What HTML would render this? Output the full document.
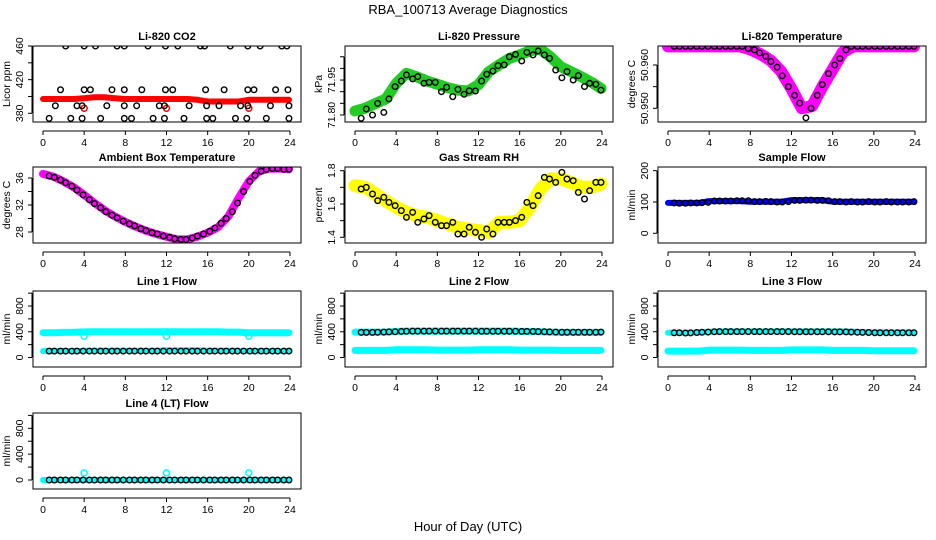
<!DOCTYPE html>
<html><head><meta charset="utf-8">
<style>
html,body{margin:0;padding:0;background:#fff;}
svg{display:block;font-family:"Liberation Sans",Arial,sans-serif;}
</style></head>
<body>
<svg id="chart" width="936" height="540" viewBox="0 0 936 540" xmlns="http://www.w3.org/2000/svg">
<rect x="0" y="0" width="936" height="540" fill="#fff"/>
<text x="468" y="14" text-anchor="middle" font-size="13">RBA_100713  Average Diagnostics</text>
<text x="468" y="531" text-anchor="middle" font-size="13">Hour of Day (UTC)</text>
</svg>
<script>
// ---- data ----
const hours = [0,1,2,3,4,5,6,7,8,9,10,11,12,13,14,15,16,17,18,19,20,21,22,23,24];
const xTicks = [0,4,8,12,16,20,24];
const blackTimes = [0.6,1.1,1.7,2.2,2.8,3.3,3.9,4.5,5.0,5.6,6.1,6.7,7.2,7.8,8.4,8.9,9.5,10.0,10.6,11.1,11.7,12.3,12.8,13.4,13.9,14.5,15.0,15.6,16.2,16.7,17.3,17.8,18.4,18.9,19.5,20.1,20.6,21.2,21.7,22.3,22.8,23.4,23.9];

const co2Red = [397,397,397,397,398,399,399,398,397,397,397,397,397,397,397,396,394,394,394,394,396,396,396,396,396];
const co2OutT = [4,12,20];
const co2OutV = [386,386,386];
const co2BlackT = [2.2,4.0,5.1,7.2,7.9,10.2,11.9,13.1,15.3,15.7,18.2,19.9,21.1,23.2,23.7,
  1.7,4.0,4.6,6.7,7.9,9.6,11.9,12.6,15.8,17.6,19.9,20.5,22.6,23.8,
  1.2,3.3,3.8,6.2,7.9,9.1,11.3,11.8,14.2,15.9,17.1,19.2,19.9,22.1,23.9,
  0.6,2.7,3.8,5.6,7.9,8.6,10.7,11.8,13.7,15.9,16.5,18.7,19.8,21.7,23.9];
const co2BlackV = [460,460,460,460,460,460,460,460,460,460,460,460,460,460,460,
  408,408,408,408,408,408,408,408,408,408,408,408,408,408,
  389,389,389,389,389,389,389,389,389,389,389,389,389,389,389,
  374,374,374,374,374,374,374,374,374,374,374,374,374,374,374];

const presGreen = [71.817,71.829,71.850,71.869,71.935,71.979,71.964,71.946,71.932,71.917,71.907,71.903,71.930,71.986,72.015,72.043,72.058,72.075,72.083,72.050,72.007,71.986,71.964,71.940,71.914];
const presBlack = [71.786,71.826,71.800,71.850,71.811,71.869,71.922,71.946,71.972,71.955,71.965,71.936,71.940,71.940,71.900,71.919,71.879,71.910,71.889,71.904,71.903,71.946,71.975,71.989,72.012,72.015,72.050,72.060,72.032,72.069,72.058,72.075,72.058,72.043,71.993,71.960,71.986,71.950,71.969,71.922,71.936,71.932,71.907];

const tempMag = [50.9643,50.9643,50.9643,50.9643,50.9643,50.9643,50.9643,50.9643,50.9636,50.9625,50.9610,50.9585,50.9545,50.9500,50.9505,50.9550,50.9590,50.9630,50.9643,50.9643,50.9643,50.9643,50.9643,50.9643,50.9643];
const tempBlack = [50.9643,50.9643,50.9643,50.9643,50.9643,50.9643,50.9643,50.9643,50.9643,50.9643,50.9643,50.9643,50.9643,50.9638,50.9635,50.9628,50.9620,50.9608,50.9595,50.9575,50.9550,50.9530,50.9512,50.9478,50.9500,50.9530,50.9555,50.9580,50.9600,50.9615,50.9635,50.9643,50.9643,50.9643,50.9643,50.9643,50.9643,50.9643,50.9643,50.9643,50.9643,50.9643,50.9643];

const ambMag = [36.6,36.2,35.5,34.6,33.5,32.3,31.2,30.3,29.5,28.8,28.2,27.7,27.3,26.9,26.9,27.3,27.9,28.7,30.3,33.0,35.5,37.0,37.4,37.4,37.3];
const ambBlack = [36.3,36.1,35.7,35.3,34.8,34.2,33.5,32.8,32.2,31.6,31.0,30.5,30.1,29.6,29.2,28.9,28.5,28.2,27.9,27.7,27.4,27.2,27.0,26.9,26.9,27.1,27.4,27.7,28.1,28.6,29.3,30.0,31.0,32.3,34.0,35.5,36.4,37.0,37.3,37.4,37.4,37.3,37.3];

const rhYellow = [1.71,1.70,1.66,1.62,1.58,1.55,1.53,1.52,1.50,1.48,1.46,1.45,1.44,1.43,1.49,1.49,1.50,1.58,1.69,1.75,1.75,1.73,1.70,1.70,1.72];
const rhBlack = [1.69,1.70,1.66,1.62,1.64,1.61,1.59,1.56,1.52,1.55,1.49,1.51,1.53,1.49,1.47,1.47,1.49,1.42,1.42,1.46,1.43,1.40,1.45,1.42,1.49,1.49,1.49,1.50,1.52,1.61,1.59,1.65,1.76,1.75,1.73,1.79,1.75,1.74,1.67,1.63,1.68,1.73,1.73];

const sampBlue = [97,97,97,97,103,103,103,103,101,101,101,101,106,106,106,106,101,101,101,101,101,101,101,101,101];
const sampBlack = [97,96,96,97,97,98,99,103,103,103,103,104,104,104,101,101,102,101,100,100,101,105,105,106,106,105,105,104,101,101,100,101,100,100,101,100,100,101,100,100,100,100,101];

const l1High = [385,385,390,392,398,400,400,400,400,400,400,400,400,400,400,400,400,400,395,395,385,385,385,385,385];
const l1Low = [100,100,100,100,105,105,105,105,105,105,105,105,110,110,110,110,105,105,105,105,100,100,100,100,100];
const l1Black = [100,100,100,100,100,100,100,100,100,100,100,100,100,100,100,100,100,100,100,100,100,100,100,100,100,100,100,100,100,100,100,100,100,100,100,100,100,100,100,100,100,100,100];
const l1OutT = [4,12,20];
const l1OutV = [330,330,330];

const l2High = [395,395,395,395,405,410,410,410,410,410,410,410,410,410,410,410,405,405,400,395,390,390,390,390,390];
const l2Low = [110,110,110,110,120,120,120,120,115,115,115,115,120,120,120,120,115,115,115,115,110,110,110,110,110];
const l2Black = [390,390,390,392,395,398,400,405,408,410,410,410,410,410,410,410,410,410,410,410,410,408,408,408,408,408,408,408,405,405,405,402,400,398,395,392,392,392,392,392,392,392,395];

const l3High = [385,385,385,390,400,405,405,405,405,405,405,405,405,405,405,405,405,405,400,395,390,390,390,390,390];
const l3Low = [100,100,100,100,115,115,115,115,110,110,110,110,118,118,118,118,110,110,110,110,105,105,105,105,105];
const l3Black = [385,385,380,382,388,392,395,400,402,402,402,402,402,402,402,402,402,402,402,402,402,400,400,400,400,400,400,400,398,398,398,395,392,390,388,385,385,385,385,385,385,385,385];

const l4Cyan = [0,0,0,0,0,0,0,0,0,0,0,0,0,0,0,0,0,0,0,0,0,0,0,0,0];
const l4Black = [0,0,0,0,0,0,0,0,0,0,0,0,0,0,0,0,0,0,0,0,0,0,0,0,0,0,0,0,0,0,0,0,0,0,0,0,0,0,0,0,0,0,0];
const l4OutT = [4,12,20];
const l4OutV = [110,110,110];

const flowTicks = [0,200,400,600,800,1000];
const flowLabels = [0,400,800];

// ---- layout ----
const NS = "http://www.w3.org/2000/svg";
const svg = document.getElementById('chart');
const colL = [33,345,658];
const rowT = [46,167,291,413];
const PW = 268, PH = 76;

function mk(tag, attrs, parent){
  const e = document.createElementNS(NS, tag);
  for (const k in attrs) e.setAttribute(k, attrs[k]);
  (parent||svg).appendChild(e);
  return e;
}

const panels = [
 {id:'co2',title:'Li-820 CO2',c:0,r:0,ytitle:'Licor ppm',yt:[380,400,420,440,460],yl:[380,420,460],fmt:v=>String(v),ym:[460,0,380,67.3],
  clouds:[{v:co2Red,col:'#ff0000',w:6}],outs:[{t:co2OutT,v:co2OutV,col:'#ff0000'}],black:{t:co2BlackT,v:co2BlackV}},
 {id:'pressure',title:'Li-820 Pressure',c:1,r:0,ytitle:'kPa',yt:[71.80,71.85,71.90,71.95,72.00,72.05],yl:[71.80,71.95],fmt:v=>v.toFixed(2),ym:[71.80,69,72.05,10.75],
  clouds:[{v:presGreen,col:'#22cc22',w:11}],outs:[],black:{t:blackTimes,v:presBlack}},
 {id:'li820-temp',title:'Li-820 Temperature',c:2,r:0,ytitle:'degrees C',yt:[50.950,50.955,50.960],yl:[50.950,50.960],fmt:v=>v.toFixed(3),ym:[50.960,19,50.950,62.3],
  clouds:[{v:tempMag,col:'#ff00ff',w:12}],outs:[],black:{t:blackTimes,v:tempBlack}},
 {id:'ambient-temp',title:'Ambient Box Temperature',c:0,r:1,ytitle:'degrees C',yt:[28,30,32,34,36],yl:[28,32,36],fmt:v=>String(v),ym:[36,11,28,65],
  clouds:[{v:ambMag,col:'#ff00ff',w:8}],outs:[],black:{t:blackTimes,v:ambBlack}},
 {id:'gas-rh',title:'Gas Stream RH',c:1,r:1,ytitle:'percent',yt:[1.4,1.5,1.6,1.7,1.8],yl:[1.4,1.6,1.8],fmt:v=>v.toFixed(1),ym:[1.8,3.7,1.4,70.3],
  clouds:[{v:rhYellow,col:'#ffff00',w:13}],outs:[],black:{t:blackTimes,v:rhBlack}},
 {id:'sample-flow',title:'Sample Flow',c:2,r:1,ytitle:'ml/min',yt:[0,100,200],yl:[0,100,200],fmt:v=>String(v),ym:[200,3.7,0,66.3],
  clouds:[{v:sampBlue,col:'#0000ff',w:6}],outs:[],black:{t:blackTimes,v:sampBlack}},
 {id:'line1-flow',title:'Line 1 Flow',c:0,r:2,ytitle:'ml/min',yt:flowTicks,yl:flowLabels,fmt:v=>String(v),ym:[0,66.5,800,15],
  clouds:[{v:l1High,col:'#00ffff',w:7},{v:l1Low,col:'#00ffff',w:6}],outs:[{t:l1OutT,v:l1OutV,col:'#00ffff'}],black:{t:blackTimes,v:l1Black}},
 {id:'line2-flow',title:'Line 2 Flow',c:1,r:2,ytitle:'ml/min',yt:flowTicks,yl:flowLabels,fmt:v=>String(v),ym:[0,66.5,800,15],
  clouds:[{v:l2High,col:'#00ffff',w:7},{v:l2Low,col:'#00ffff',w:7}],outs:[],black:{t:blackTimes,v:l2Black}},
 {id:'line3-flow',title:'Line 3 Flow',c:2,r:2,ytitle:'ml/min',yt:flowTicks,yl:flowLabels,fmt:v=>String(v),ym:[0,66.5,800,15],
  clouds:[{v:l3High,col:'#00ffff',w:6},{v:l3Low,col:'#00ffff',w:7}],outs:[],black:{t:blackTimes,v:l3Black}},
 {id:'line4-flow',title:'Line 4 (LT) Flow',c:0,r:3,ytitle:'ml/min',yt:flowTicks,yl:flowLabels,fmt:v=>String(v),ym:[0,67,800,15.3],
  clouds:[{v:l4Cyan,col:'#00ffff',w:6}],outs:[{t:l4OutT,v:l4OutV,col:'#00ffff'}],black:{t:blackTimes,v:l4Black}}
];

panels.forEach(p=>{
  const L = colL[p.c], T = rowT[p.r];
  const g = mk('g',{});
  
  
  const xs = t => L + 10 + t*(PW-21)/24;
  const k = (p.ym[3]-p.ym[1])/(p.ym[2]-p.ym[0]);
  const ys = v => T + p.ym[1] + (v - p.ym[0])*k;

  const cid = 'clip-' + p.id;
  const cp = mk('clipPath',{id:cid}, g);
  mk('rect',{x:L,y:T,width:PW,height:PH}, cp);
  const data = mk('g',{'clip-path':'url(#'+cid+')'}, g);

  p.clouds.forEach((cl,i)=>{
    const pts = cl.v.map((v,j)=> xs(Math.min(hours[j],23.9)).toFixed(1)+','+ys(v).toFixed(1)).join(' ');
    const pl = mk('polyline',{points:pts,fill:'none',stroke:cl.col,'stroke-width':cl.w,'stroke-linejoin':'round','stroke-linecap':'round'}, data);
    
    
  });
  p.outs.forEach(o=>{
    o.t.forEach((t,j)=>{
      const c = mk('circle',{cx:xs(t),cy:ys(o.v[j]),r:3,fill:'none',stroke:o.col,'stroke-width':1.5}, data);
      
      
    });
  });
  p.black.t.forEach((t,j)=>{
    const c = mk('circle',{cx:xs(t),cy:ys(p.black.v[j]),r:2.8,fill:'none',stroke:'#000','stroke-width':1.4}, data);
    
    
  });

  const box = mk('rect',{x:L,y:T,width:PW,height:PH,fill:'none',stroke:'#000','stroke-width':1}, g);
  
  

  const tt = mk('text',{x:L+PW/2,y:T-6,'text-anchor':'middle','font-size':11,'font-weight':'bold'}, g);
  tt.textContent = p.title;
  
  

  const xa = mk('g',{}, g);
  
  
  const xb = T+PH+9;
  mk('line',{x1:xs(xTicks[0]),x2:xs(xTicks[xTicks.length-1]),y1:xb,y2:xb,stroke:'#000'}, xa);
  xTicks.forEach(t=>{
    mk('line',{x1:xs(t),x2:xs(t),y1:xb,y2:xb+4,stroke:'#000'}, xa);
    const tx = mk('text',{x:xs(t),y:xb+15,'text-anchor':'middle','font-size':10.5}, xa);
    tx.textContent = String(t);
    
    
  });

  const ya = mk('g',{}, g);
  
  
  const ax = L-1;
  const yv = p.yt.map(ys);
  mk('line',{x1:ax,x2:ax,y1:Math.min(...yv),y2:Math.max(...yv),stroke:'#000'}, ya);
  p.yt.forEach(v=>{
    mk('line',{x1:ax-4,x2:ax,y1:ys(v),y2:ys(v),stroke:'#000'}, ya);
  });
  p.yl.forEach(v=>{
    const lx = L-10, ly = ys(v);
    const tx = mk('text',{x:lx,y:ly,'text-anchor':'middle','font-size':10.5,transform:'rotate(-90 '+lx+' '+ly+')'}, ya);
    tx.textContent = p.fmt(v);
    
    
  });
  const yx = L-23, yy = T+PH/2;
  const yt = mk('text',{x:yx,y:yy,'text-anchor':'middle','font-size':10.5,transform:'rotate(-90 '+yx+' '+yy+')'}, ya);
  yt.textContent = p.ytitle;
  
  
});
</script>
</body></html>
